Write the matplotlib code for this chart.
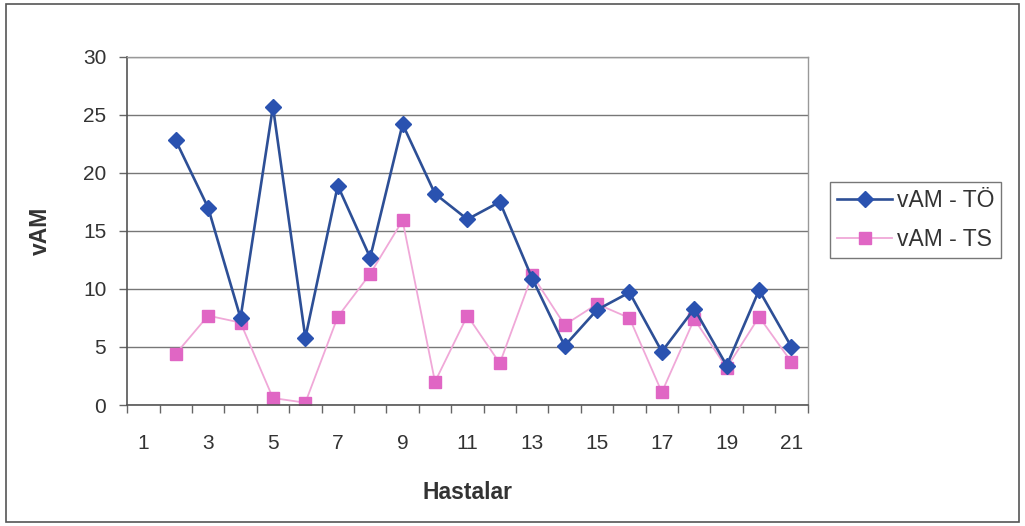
import matplotlib.pyplot as plt
import numpy as np
from matplotlib.patches import Rectangle
from matplotlib.ticker import FixedLocator

plt.rcParams['font.family'] = ['Liberation Sans', 'DejaVu Sans']

# Hasta numaralari (1. hastada deger yok)
hastalar = np.arange(2, 22)
vam_to = [22.8, 17.0, 7.5, 25.7, 5.8, 18.9, 12.7, 24.2, 18.2, 16.0,
          17.5, 10.9, 5.1, 8.2, 9.7, 4.6, 8.3, 3.4, 9.9, 5.0]
vam_ts = [4.4, 7.7, 7.1, 0.6, 0.2, 7.6, 11.3, 15.9, 2.0, 7.7,
          3.6, 11.2, 6.9, 8.7, 7.5, 1.1, 7.4, 3.2, 7.6, 3.7]
etiketler = [str(i) for i in range(1, 22, 2)]

fig = plt.figure(figsize=(10.25, 5.26), dpi=100)
ax = fig.add_axes([0.124, 0.230, 0.664, 0.662])

# Dis cerceve
fig.patches.append(Rectangle((0.006, 0.008), 0.988, 0.985, transform=fig.transFigure,
                             fill=False, edgecolor='#555555', linewidth=1.2))

ax.plot(hastalar, vam_to, color='#2d4f96', linewidth=1.9, marker='D', markersize=8,
        markerfacecolor='#2a52b0', markeredgecolor='#2a52b0', label='vAM - TÖ', zorder=3)
ax.plot(hastalar, vam_ts, color='#f0a8d8', linewidth=1.3, marker='s', markersize=9,
        markerfacecolor='#e066c4', markeredgecolor='#e066c4', label='vAM - TS', zorder=2)

ax.set_xlim(0.5, 21.5)
ax.set_ylim(0, 30)
ax.set_yticks(range(0, 31, 5))
ax.xaxis.set_major_locator(FixedLocator(range(1, 22, 2)))
ax.set_xticklabels(etiketler)
ax.xaxis.set_minor_locator(FixedLocator(np.arange(0.5, 22, 1)))
ax.tick_params(axis='x', which='major', length=0, pad=21, labelsize=15, colors='#333333')
ax.tick_params(axis='x', which='minor', length=6, width=1, color='#666666', direction='out')
ax.tick_params(axis='y', length=6, width=1, color='#666666', pad=9, labelsize=15,
               labelcolor='#333333')

ax.grid(axis='y', color='#777777', linewidth=1.0)
ax.set_axisbelow(True)
for side in ['left', 'bottom']:
    ax.spines[side].set_color('#555555')
    ax.spines[side].set_linewidth(1.2)
for side in ['right', 'top']:
    ax.spines[side].set_color('#999999')
    ax.spines[side].set_linewidth(1.0)

ax.set_xlabel('Hastalar', fontsize=16.5, fontweight='bold', color='#333333', labelpad=20)
ax.set_ylabel('vAM', fontsize=16.5, fontweight='bold', color='#333333', labelpad=22)

leg = fig.legend(loc='upper left', bbox_to_anchor=(0.810, 0.654), fontsize=16.5,
                 handlelength=2.4, handletextpad=0.2, borderpad=0.3, labelspacing=0.7,
                 fancybox=False, edgecolor='#777777', framealpha=1, borderaxespad=0)
for t in leg.get_texts():
    t.set_color('#333333')

fig.savefig('out.png', dpi=100)
